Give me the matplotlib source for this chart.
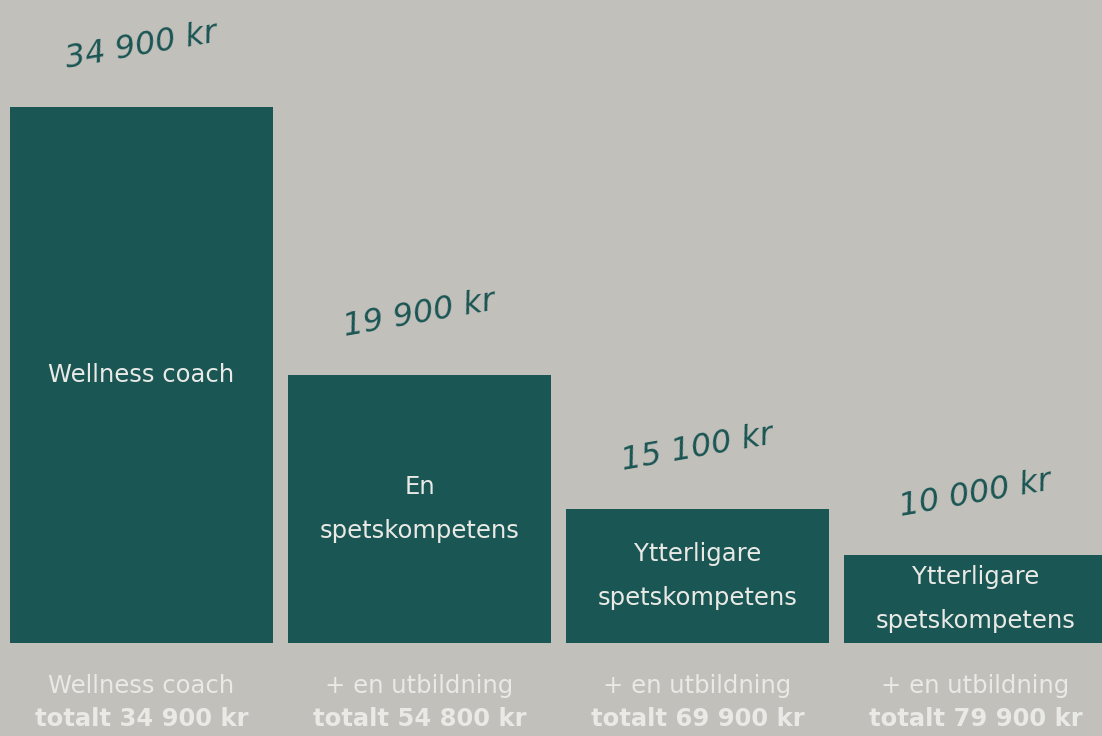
import matplotlib
matplotlib.use("Agg")
import matplotlib.pyplot as plt

# data
prices = ["34 900 kr", "19 900 kr", "15 100 kr", "10 000 kr"]
bar_heights = [100, 50, 25, 16.4]  # relative heights as drawn (bar 1 = 100)
bar_texts = ["Wellness coach", "En\nspetskompetens",
             "Ytterligare\nspetskompetens", "Ytterligare\nspetskompetens"]
bottom_line1 = ["Wellness coach", "+ en utbildning", "+ en utbildning", "+ en utbildning"]
bottom_line2 = ["totalt 34 900 kr", "totalt 54 800 kr", "totalt 69 900 kr", "totalt 79 900 kr"]

bg = "#C2C0BA"
teal = "#1A5654"
light = "#E9E9E5"

fig = plt.figure(figsize=(11.02, 7.36), dpi=100, facecolor=bg)
ax = fig.add_axes([0, 0, 1, 1])
ax.set_facecolor(bg)

x = list(range(len(bar_heights)))
bars = ax.bar(x, bar_heights, width=0.946, color=teal)

# 278 px per category, 5.36 px per height unit
ax.set_xlim(-0.509, 3.455)
ax.set_ylim(-17.35, 119.96)
ax.axis("off")

for xi, h, price, txt, l1, l2 in zip(x, bar_heights, prices, bar_texts,
                                     bottom_line1, bottom_line2):
    ax.annotate(price, (xi, h), xytext=(0, 44), textcoords="offset points",
                ha="center", va="center", rotation=10, color=teal,
                fontsize=23, fontstyle="italic", family="DejaVu Sans")
    ax.text(xi, h / 2, txt, ha="center", va="center", color=light,
            fontsize=17.5, linespacing=2.05, family="DejaVu Sans")
    ax.annotate(l1, (xi, 0), xytext=(0, -31), textcoords="offset points",
                ha="center", va="center", color=light, fontsize=17.5,
                family="DejaVu Sans")
    ax.annotate(l2, (xi, 0), xytext=(0, -55), textcoords="offset points",
                ha="center", va="center", color=light, fontsize=17.5,
                fontweight="bold", family="DejaVu Sans")

fig.savefig("out.png", dpi=100, facecolor=bg)
